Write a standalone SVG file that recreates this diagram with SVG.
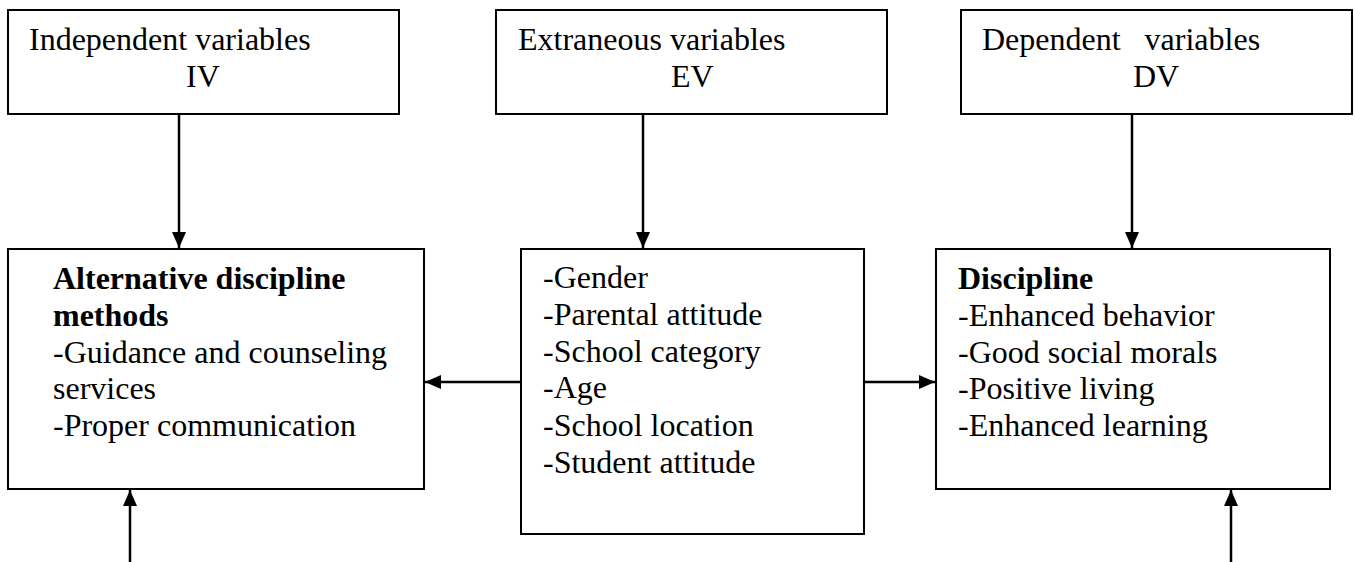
<svg xmlns="http://www.w3.org/2000/svg" width="1355" height="562" viewBox="0 0 1355 562">
<style>
.box{fill:#fff;stroke:#000;stroke-width:2}
.t{font-family:"Liberation Serif","Times New Roman",serif;font-size:32px;fill:#000}
.b{font-weight:bold}
.c{stroke:#000;stroke-width:2.5;fill:none;marker-end:url(#ah)}
</style>
<defs>
<marker id="ah" markerUnits="userSpaceOnUse" markerWidth="16" markerHeight="14" refX="16" refY="7" orient="auto">
<path d="M0,0 L16,7 L0,14 z" fill="#000"/>
</marker>
</defs>
<rect width="1355" height="562" fill="#fff"/>
<g id="iv">
<rect class="box" x="8" y="10" width="391" height="104"/>
<text class="t" x="29" y="50">Independent variables</text>
<text class="t" x="186" y="87">IV</text>
</g>
<g id="ev">
<rect class="box" x="496" y="10" width="391" height="104"/>
<text class="t" x="518" y="50">Extraneous variables</text>
<text class="t" x="671" y="87">EV</text>
</g>
<g id="dv">
<rect class="box" x="961" y="10" width="391" height="104"/>
<text class="t" x="982" y="50" xml:space="preserve">Dependent   variables</text>
<text class="t" x="1133" y="87">DV</text>
</g>
<g id="adm">
<rect class="box" x="8" y="249" width="416" height="240"/>
<text class="t b" x="53" y="289">Alternative discipline</text>
<text class="t b" x="53" y="326">methods</text>
<text class="t" x="53" y="363">-Guidance and counseling</text>
<text class="t" x="53" y="399">services</text>
<text class="t" x="53" y="436">-Proper communication</text>
</g>
<g id="evlist">
<rect class="box" x="521" y="249" width="343" height="285"/>
<text class="t" x="543" y="288">-Gender</text>
<text class="t" x="543" y="325">-Parental attitude</text>
<text class="t" x="543" y="362">-School category</text>
<text class="t" x="543" y="398">-Age</text>
<text class="t" x="543" y="436">-School location</text>
<text class="t" x="543" y="473">-Student attitude</text>
</g>
<g id="discipline">
<rect class="box" x="936" y="249" width="394" height="240"/>
<text class="t b" x="958" y="289">Discipline</text>
<text class="t" x="958" y="326">-Enhanced behavior</text>
<text class="t" x="958" y="363">-Good social morals</text>
<text class="t" x="958" y="399">-Positive living</text>
<text class="t" x="958" y="436">-Enhanced learning</text>
</g>
<g id="connectors">
<line class="c" x1="179" y1="114" x2="179" y2="248"/>
<line class="c" x1="643" y1="114" x2="643" y2="248"/>
<line class="c" x1="1132" y1="114" x2="1132" y2="248"/>
<line class="c" x1="521" y1="382" x2="425" y2="382"/>
<line class="c" x1="864" y1="382" x2="935" y2="382"/>
<line class="c" x1="130" y1="562" x2="130" y2="490"/>
<line class="c" x1="1231" y1="562" x2="1231" y2="490"/>
</g>
</svg>
